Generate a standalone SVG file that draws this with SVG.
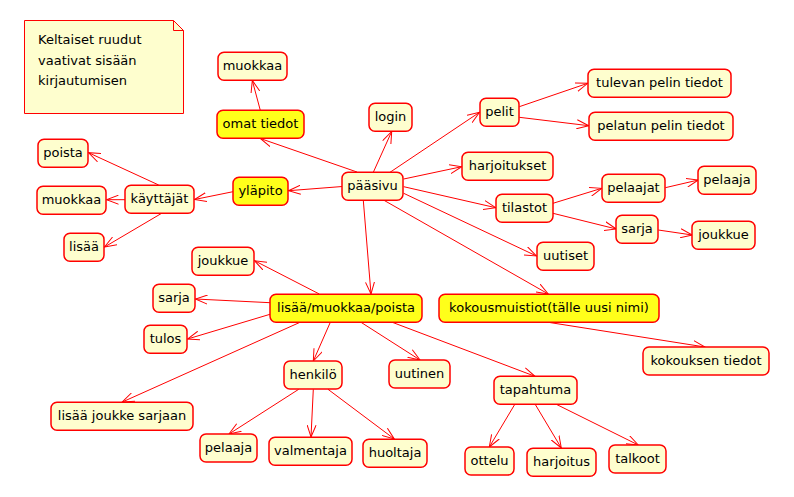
<svg xmlns="http://www.w3.org/2000/svg" width="794" height="497" viewBox="0 0 794 497">
<style>
.n rect{fill:#FEFECE;stroke:#FF0000;stroke-width:1.5}
.n.y rect{fill:#FFFF1A}
text{font-family:"DejaVu Sans","Liberation Sans",sans-serif;font-size:13px;fill:#000}
.n text{text-anchor:middle}
.e line{stroke:#FF0000;stroke-width:1;marker-end:url(#ah)}
</style>
<defs>
<marker id="ah" viewBox="0 0 13 10" refX="12" refY="5" markerWidth="13" markerHeight="10" markerUnits="userSpaceOnUse" orient="auto">
<path d="M0,0.5 L12,5 L0,9.5" fill="none" stroke="#FF0000" stroke-width="1"/>
</marker>
</defs>
<rect width="794" height="497" fill="#FFFFFF"/>
<g id="note">
<path d="M24.5,20.5 L173.5,20.5 L183.5,30.5 L183.5,113.5 L24.5,113.5 Z" fill="#FEFECE" stroke="#FF0000" stroke-width="1"/>
<path d="M173.5,20.5 L173.5,30.5 L183.5,30.5" fill="none" stroke="#FF0000" stroke-width="1"/>
<text x="38" y="44">Keltaiset ruudut</text>
<text x="38" y="65">vaativat sisään</text>
<text x="38" y="85">kirjautumisen</text>
</g>
<g class="e" id="connectors">
<line x1="260.3" y1="110.3" x2="252.3" y2="80.5"/>
<line x1="357" y1="172" x2="260.3" y2="138.5"/>
<line x1="342.3" y1="186.5" x2="288.5" y2="190.7"/>
<line x1="233" y1="191.7" x2="194.5" y2="199.5"/>
<line x1="158.7" y1="185" x2="88.5" y2="152.7"/>
<line x1="125" y1="199.7" x2="106.5" y2="199.7"/>
<line x1="161.3" y1="213.5" x2="104.5" y2="247"/>
<line x1="373.3" y1="172.3" x2="391.7" y2="131.5"/>
<line x1="390" y1="172.3" x2="479.5" y2="112.3"/>
<line x1="519.3" y1="106.7" x2="587.7" y2="83.3"/>
<line x1="519.3" y1="117.3" x2="588.7" y2="125.7"/>
<line x1="403.7" y1="179" x2="461.7" y2="166.7"/>
<line x1="403.7" y1="186.7" x2="495.7" y2="207.7"/>
<line x1="553" y1="203.3" x2="601.7" y2="188.3"/>
<line x1="665.3" y1="187.7" x2="698.3" y2="180"/>
<line x1="553" y1="213.3" x2="616.3" y2="229"/>
<line x1="658.3" y1="230" x2="692.3" y2="235"/>
<line x1="403.7" y1="193.3" x2="536.5" y2="256"/>
<line x1="384" y1="200.3" x2="548.3" y2="294"/>
<line x1="363.3" y1="200.3" x2="371" y2="294"/>
<line x1="319.3" y1="294" x2="254.5" y2="260.7"/>
<line x1="270" y1="302.7" x2="195.5" y2="299"/>
<line x1="270" y1="314.3" x2="187.5" y2="339"/>
<line x1="300" y1="322.3" x2="122.3" y2="402"/>
<line x1="330.3" y1="322.3" x2="313.3" y2="361"/>
<line x1="361" y1="322.3" x2="420" y2="360"/>
<line x1="392.3" y1="322.3" x2="535" y2="376.3"/>
<line x1="548.3" y1="322.3" x2="705" y2="347"/>
<line x1="298.7" y1="389.3" x2="229" y2="434"/>
<line x1="313.3" y1="389.3" x2="311" y2="437"/>
<line x1="328" y1="389.3" x2="394.3" y2="439"/>
<line x1="514.7" y1="404.5" x2="489.3" y2="447"/>
<line x1="535.3" y1="404.5" x2="561.3" y2="448"/>
<line x1="556.7" y1="404.5" x2="638.3" y2="445"/>
</g>
<g class="n" id="n_muokkaa1"><rect x="218" y="52.3" width="69" height="28" rx="6"/><text x="252.5" y="70.3">muokkaa</text></g>
<g class="n y" id="n_omat"><rect x="217" y="110.3" width="87" height="28" rx="6"/><text x="260.5" y="128.3">omat tiedot</text></g>
<g class="n" id="n_poista"><rect x="38" y="139.3" width="50" height="28" rx="6"/><text x="63" y="157.3">poista</text></g>
<g class="n" id="n_muokkaa2"><rect x="37" y="186.3" width="69" height="28" rx="6"/><text x="71.5" y="204.3">muokkaa</text></g>
<g class="n" id="n_kayttajat"><rect x="125" y="185.3" width="69" height="28" rx="6"/><text x="159.5" y="203.3">käyttäjät</text></g>
<g class="n y" id="n_yllapito"><rect x="233" y="177.3" width="55" height="28" rx="6"/><text x="260.5" y="195.3">yläpito</text></g>
<g class="n" id="n_lisaa"><rect x="64" y="233.3" width="40" height="28" rx="6"/><text x="84" y="251.3">lisää</text></g>
<g class="n" id="n_joukkue1"><rect x="192" y="247.3" width="62" height="28" rx="6"/><text x="223" y="265.3">joukkue</text></g>
<g class="n" id="n_sarja1"><rect x="153" y="284.3" width="42" height="28" rx="6"/><text x="174" y="302.3">sarja</text></g>
<g class="n y" id="n_lmp"><rect x="270" y="294.3" width="152" height="28" rx="6"/><text x="346" y="312.3">lisää/muokkaa/poista</text></g>
<g class="n" id="n_tulos"><rect x="144" y="325.3" width="43" height="28" rx="6"/><text x="165.5" y="343.3">tulos</text></g>
<g class="n" id="n_henkilo"><rect x="284" y="361" width="58" height="28" rx="6"/><text x="313" y="379">henkilö</text></g>
<g class="n" id="n_uutinen"><rect x="389" y="360" width="61" height="28" rx="6"/><text x="419.5" y="378">uutinen</text></g>
<g class="n" id="n_ljs"><rect x="51" y="402.3" width="142" height="28" rx="6"/><text x="122" y="420.3">lisää joukke sarjaan</text></g>
<g class="n" id="n_pelaaja1"><rect x="200" y="434" width="57" height="28" rx="6"/><text x="228.5" y="452">pelaaja</text></g>
<g class="n" id="n_valmentaja"><rect x="269" y="437.3" width="83" height="28" rx="6"/><text x="310.5" y="455.3">valmentaja</text></g>
<g class="n" id="n_huoltaja"><rect x="363" y="439.3" width="64" height="28" rx="6"/><text x="395" y="457.3">huoltaja</text></g>
<g class="n" id="n_login"><rect x="369" y="103.3" width="43" height="28" rx="6"/><text x="390.5" y="121.3">login</text></g>
<g class="n" id="n_paasivu"><rect x="342" y="172.3" width="61" height="28" rx="6"/><text x="372.5" y="190.3">pääsivu</text></g>
<g class="n" id="n_pelit"><rect x="480" y="98.3" width="39" height="28" rx="6"/><text x="499.5" y="116.3">pelit</text></g>
<g class="n" id="n_tulevan"><rect x="588" y="69.3" width="143" height="28" rx="6"/><text x="659.5" y="87.3">tulevan pelin tiedot</text></g>
<g class="n" id="n_pelatun"><rect x="589" y="112.3" width="144" height="28" rx="6"/><text x="661" y="130.3">pelatun pelin tiedot</text></g>
<g class="n" id="n_harjoitukset"><rect x="462" y="152.3" width="91" height="28" rx="6"/><text x="507.5" y="170.3">harjoitukset</text></g>
<g class="n" id="n_tilastot"><rect x="496" y="194.3" width="57" height="28" rx="6"/><text x="524.5" y="212.3">tilastot</text></g>
<g class="n" id="n_pelaajat"><rect x="602" y="174.3" width="63" height="28" rx="6"/><text x="633.5" y="192.3">pelaajat</text></g>
<g class="n" id="n_pelaaja2"><rect x="698" y="166.3" width="58" height="28" rx="6"/><text x="727" y="184.3">pelaaja</text></g>
<g class="n" id="n_sarja2"><rect x="616" y="215.3" width="42" height="28" rx="6"/><text x="637" y="233.3">sarja</text></g>
<g class="n" id="n_joukkue2"><rect x="692" y="221.3" width="63" height="28" rx="6"/><text x="723.5" y="239.3">joukkue</text></g>
<g class="n" id="n_uutiset"><rect x="537" y="242.3" width="57" height="28" rx="6"/><text x="565.5" y="260.3">uutiset</text></g>
<g class="n y" id="n_kokous"><rect x="439" y="294.3" width="220" height="28" rx="6"/><text x="549" y="312.3">kokousmuistiot(tälle uusi nimi)</text></g>
<g class="n" id="n_kokouksen"><rect x="643" y="347" width="126" height="28" rx="6"/><text x="706" y="365">kokouksen tiedot</text></g>
<g class="n" id="n_tapahtuma"><rect x="494" y="376.3" width="83" height="28" rx="6"/><text x="535.5" y="394.3">tapahtuma</text></g>
<g class="n" id="n_ottelu"><rect x="465" y="447" width="49" height="28" rx="6"/><text x="489.5" y="465">ottelu</text></g>
<g class="n" id="n_harjoitus"><rect x="527" y="448.3" width="69" height="28" rx="6"/><text x="561.5" y="466.3">harjoitus</text></g>
<g class="n" id="n_talkoot"><rect x="609" y="445" width="57" height="28" rx="6"/><text x="637.5" y="463">talkoot</text></g>
</svg>
